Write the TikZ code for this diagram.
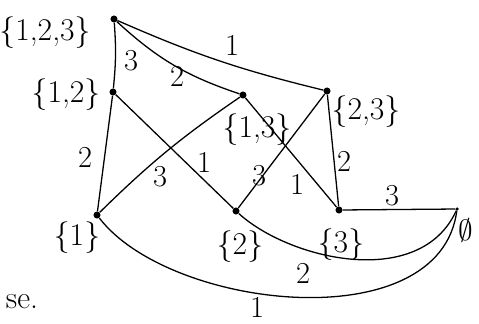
\documentclass[tikz,border=0pt]{standalone}
\usepackage{tikz}
\usetikzlibrary{positioning}

\begin{document}
\begin{tikzpicture}[x=0.03cm, y=-0.03cm,
    vtx/.style={circle, fill=black, inner sep=0pt, minimum size=6pt},
    setlbl/.style={font=\fontsize{27}{30}\selectfont, inner sep=1pt},
    elbl/.style={font=\fontsize{26}{30}\selectfont, inner sep=1pt},
    edge/.style={line width=1.1pt}
]
\useasboundingbox (0,0) rectangle (479,323);

% subsets
\node[vtx] (s123) at (114,19) {};
\node[vtx] (s12) at (113,92) {};
\node[vtx] (s13) at (243,95) {};
\node[vtx] (s23) at (327,91) {};
\node[vtx] (s1) at (97,215) {};
\node[vtx] (s2) at (236,211) {};
\node[vtx] (s3) at (339,210) {};
\node[vtx, minimum size=3pt] (sE) at (457,209) {};

\node[setlbl] (t123) at (45,33) {\{1,2,3\}};
\node[setlbl] (t12) at (66,95) {\{1,2\}};
\node[setlbl] (t13) at (257,130) {\{1,3\}};
\node[setlbl] (t23) at (366,112) {\{2,3\}};
\node[setlbl] (t1) at (77,238) {\{1\}};
\node[setlbl] (t2) at (240,247) {\{2\}};
\node[setlbl] (t3) at (341,245) {\{3\}};
\node[setlbl] (tE) at (466,230) {$\emptyset$};

% edges
\draw[edge] (s123) to[bend left=5] (s12);
\draw[edge] (s123) to[bend right=12] (s13);
\draw[edge] (s123) to[bend right=5] (s23);
\draw[edge] (s12) -- (s1);
\draw[edge] (s12) -- (s2);
\draw[edge] (s1) to[bend left=5] (s13);
\draw[edge] (s13) -- (s3);
\draw[edge] (s23) -- (s2);
\draw[edge] (s23) -- (s3);
\draw[edge] (s3) -- (sE);
\draw[edge] (s2) .. controls (290,260) and (420,290) .. (sE);
\draw[edge] (s1) .. controls (170,310) and (440,340) .. (sE);

% edge labels
\node[elbl] (w1) at (131,61) {3};
\node[elbl] (w2) at (177,76) {2};
\node[elbl] (w3) at (232,45) {1};
\node[elbl] (w4) at (85,157) {2};
\node[elbl] (w5) at (204,162) {1};
\node[elbl] (w6) at (160,177) {3};
\node[elbl] (w7) at (259,176) {3};
\node[elbl] (w8) at (297,184) {1};
\node[elbl] (w9) at (344,161) {2};
\node[elbl] (w10) at (392,196) {3};
\node[elbl] (w11) at (303,273) {2};
\node[elbl, inner sep=0pt] (w12) at (257,307) {1};

\node[setlbl] (tail) at (22,302) {se.};
\end{tikzpicture}
\end{document}
